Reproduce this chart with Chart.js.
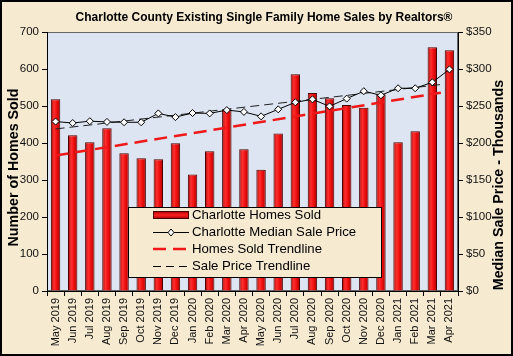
<!DOCTYPE html>
<html>
<head>
<meta charset="utf-8">
<script src="https://cdn.jsdelivr.net/npm/chart.js@4"></script>
<style>
  html, body { margin: 0; padding: 0; background: #F6EAD0; }
  #wrap { width: 513px; height: 356px; }
</style>
</head>
<body>
<div id="wrap"><canvas id="c" width="513" height="356"></canvas></div>
<script>
const months = ['May 2019','Jun 2019','Jul 2019','Aug 2019','Sep 2019','Oct 2019','Nov 2019','Dec 2019',
  'Jan 2020','Feb 2020','Mar 2020','Apr 2020','May 2020','Jun 2020','Jul 2020','Aug 2020','Sep 2020',
  'Oct 2020','Nov 2020','Dec 2020','Jan 2021','Feb 2021','Mar 2021','Apr 2021'];
const homesSold = [518,421,402,440,372,359,356,399,315,378,491,383,328,426,586,535,521,503,495,532,402,432,659,651];
const medianPrice = [229,227,229.5,228.5,228,228,240,235,240.5,240,244.5,242,236,245.5,255,259,249.5,260,270,264.5,274,274,282,299.5];
const trendX = [0, 22.5];
const soldTrend = [366, 536];
const priceTrend = [219, 279];
const leftTicks = [0,100,200,300,400,500,600,700];
const rightTicks = [0,50,100,150,200,250,300,350];
const titleText = 'Charlotte County Existing Single Family Home Sales by Realtors®';
const leftTitle = 'Number of Homes Sold';
const rightTitle = 'Median Sale Price - Thousands';
const seriesLabels = ['Charlotte Homes Sold','Charlotte Median Sale Price','Homes Sold Trendline','Sale Price Trendline'];

const FONT = '"Liberation Sans", Arial, sans-serif';
const BG = '#F6EAD0';

function barGradient(ctx) {
  const chart = ctx.chart;
  const xs = chart.scales && chart.scales.x;
  if (!xs || ctx.type !== 'data' || !isFinite(xs.getPixelForValue(ctx.dataIndex))) return '#e00000';
  const cx = xs.getPixelForValue(ctx.dataIndex);
  const g = chart.ctx.createLinearGradient(cx - 5, 0, cx + 5, 0);
  g.addColorStop(0, '#9a0000');
  g.addColorStop(0.35, '#ff3030');
  g.addColorStop(0.6, '#f01010');
  g.addColorStop(1, '#a80000');
  return g;
}

const decorPlugin = {
  id: 'decorPlugin',
  beforeDraw(chart) {
    const c = chart.ctx, a = chart.chartArea;
    c.save();
    c.fillStyle = BG;
    c.fillRect(0, 0, chart.width, chart.height);
    c.fillStyle = '#DCE5F1';
    c.fillRect(a.left, a.top, a.right - a.left, a.bottom - a.top);
    c.strokeStyle = '#666';
    c.lineWidth = 1;
    c.strokeRect(a.left + 0.5, a.top + 0.5, a.right - a.left - 1, a.bottom - a.top - 1);
    // chart title
    c.fillStyle = '#000';
    c.font = 'bold 12px ' + FONT;
    c.textAlign = 'center';
    c.textBaseline = 'middle';
    c.fillText(titleText, 264, 18);
    // axis titles
    c.font = 'bold 14.3px ' + FONT;
    c.save();
    c.translate(14.5, 167.5);
    c.rotate(-Math.PI / 2);
    c.fillText(leftTitle, 0, 0);
    c.restore();
    c.save();
    c.translate(499, 185);
    c.rotate(-Math.PI / 2);
    c.fillText(rightTitle, 0, 0);
    c.restore();
    c.restore();
  },
  afterDraw(chart) {
    const c = chart.ctx;
    c.save();
    // legend box
    const L = 128, T = 207, W = 253, H = 70;
    c.fillStyle = BG;
    c.fillRect(L, T, W, H);
    c.strokeStyle = '#000';
    c.lineWidth = 1;
    c.strokeRect(L + 0.5, T + 0.5, W, H);
    const ds = chart.data.datasets;
    const sx0 = 153, sx1 = 189, tx = 192;
    const rows = [215, 232, 249, 266];
    // row 1: bar
    const g = c.createLinearGradient(0, rows[0] - 4, 0, rows[0] + 4);
    g.addColorStop(0, '#a00000'); g.addColorStop(0.5, '#ff2020'); g.addColorStop(1, '#a00000');
    c.fillStyle = g;
    c.fillRect(sx0, rows[0] - 3.5, sx1 - sx0, 7);
    c.strokeStyle = '#4a0000';
    c.strokeRect(sx0 + 0.5, rows[0] - 3.5, sx1 - sx0 - 1, 7);
    // row 2: line with diamond
    c.strokeStyle = '#000'; c.lineWidth = 1;
    c.beginPath(); c.moveTo(sx0, rows[1] + 0.5); c.lineTo(sx1, rows[1] + 0.5); c.stroke();
    const dx = (sx0 + sx1) / 2;
    c.beginPath();
    c.moveTo(dx, rows[1] - 3); c.lineTo(dx + 3, rows[1] + 0.5); c.lineTo(dx, rows[1] + 4); c.lineTo(dx - 3, rows[1] + 0.5); c.closePath();
    c.fillStyle = '#fff'; c.fill(); c.stroke();
    // row 3: red dashed
    c.strokeStyle = ds[2].borderColor; c.lineWidth = 2.5; c.setLineDash([13, 7]);
    c.beginPath(); c.moveTo(sx0, rows[2]); c.lineTo(sx1, rows[2]); c.stroke();
    // row 4: black dashed
    c.strokeStyle = '#000'; c.lineWidth = 1; c.setLineDash([8, 5]);
    c.beginPath(); c.moveTo(sx0, rows[3] + 0.5); c.lineTo(sx1, rows[3] + 0.5); c.stroke();
    c.setLineDash([]);
    c.font = '13.2px ' + FONT;
    c.textBaseline = 'middle';
    c.textAlign = 'left';
    c.fillStyle = '#000';
    for (let i = 0; i < 4; i++) c.fillText(ds[i].label, tx, rows[i] + 0.5);
    // outer frame
    c.strokeStyle = '#000'; c.lineWidth = 2;
    c.strokeRect(1, 1, chart.width - 2, chart.height - 2);
    c.restore();
  }
};

new Chart(document.getElementById('c'), {
  type: 'bar',
  data: {
    labels: months,
    datasets: [
      {
        type: 'bar', label: seriesLabels[0], data: homesSold, yAxisID: 'y', xAxisID: 'x',
        backgroundColor: barGradient, borderColor: '#4a0000', borderWidth: 1,
        grouped: false, categoryPercentage: 1, barPercentage: 0.55, order: 4
      },
      {
        type: 'line', label: seriesLabels[1], data: medianPrice, yAxisID: 'y1', xAxisID: 'x',
        borderColor: '#000', borderWidth: 1, pointStyle: 'rectRot', pointRadius: 3.5,
        pointBackgroundColor: '#fff', pointBorderColor: '#000', pointBorderWidth: 1,
        tension: 0, fill: false, order: 1
      },
      {
        type: 'line', label: seriesLabels[2],
        data: trendX.map((x, i) => ({x: x, y: soldTrend[i]})),
        yAxisID: 'y', xAxisID: 'xt', borderColor: '#F01818', borderWidth: 2.5,
        borderDash: [13, 7], pointRadius: 0, fill: false, order: 3
      },
      {
        type: 'line', label: seriesLabels[3],
        data: trendX.map((x, i) => ({x: x, y: priceTrend[i]})),
        yAxisID: 'y1', xAxisID: 'xt', borderColor: '#222', borderWidth: 1,
        borderDash: [9, 5], pointRadius: 0, fill: false, order: 2
      }
    ]
  },
  options: {
    responsive: false,
    animation: false,
    layout: { padding: { top: 32, left: 0, right: 0, bottom: 0 } },
    plugins: {
      legend: { display: false },
      tooltip: { enabled: false },
      title: { display: false }
    },
    scales: {
      x: {
        type: 'category', position: 'bottom',
        grid: { display: true, drawOnChartArea: false, drawTicks: true, tickLength: 5, color: '#000', offset: true },
        border: { display: true, color: '#000' },
        ticks: { color: '#111', font: { family: FONT, size: 11 }, minRotation: 90, maxRotation: 90, padding: 2, autoSkip: false },
        afterFit(s) { s.height = 65; }
      },
      xt: {
        type: 'linear', position: 'bottom', display: false, min: -0.5, max: 23.5, offset: false
      },
      y: {
        position: 'left', min: 0, max: 700,
        afterBuildTicks(s) { s.ticks = leftTicks.map(v => ({value: v})); },
        grid: { display: true, drawOnChartArea: false, drawTicks: true, tickLength: 5, color: '#000' },
        border: { display: true, color: '#000' },
        ticks: { color: '#111', font: { family: FONT, size: 11.5 }, padding: 3 },
        afterFit(s) { s.width = 47; }
      },
      y1: {
        position: 'right', min: 0, max: 350,
        afterBuildTicks(s) { s.ticks = rightTicks.map(v => ({value: v})); },
        grid: { display: true, drawOnChartArea: false, drawTicks: true, tickLength: 5, color: '#000' },
        border: { display: true, color: '#000' },
        ticks: { color: '#111', font: { family: FONT, size: 11.5 }, padding: 3, callback: v => '$' + v },
        afterFit(s) { s.width = 55; }
      }
    }
  },
  plugins: [decorPlugin]
});
</script>
</body>
</html>
